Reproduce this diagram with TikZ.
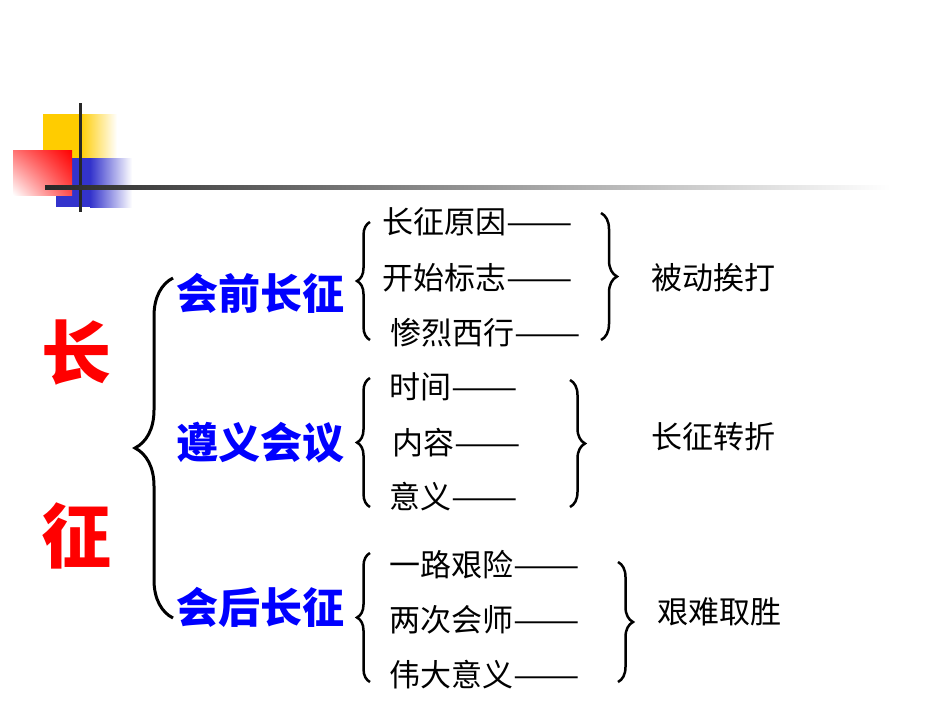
\documentclass[tikz,border=0pt]{standalone}
\usepackage{fontspec}
\setmainfont{Noto Sans CJK SC}
\usetikzlibrary{decorations.pathreplacing,shadings}
\definecolor{deckyellow}{RGB}{255,204,0}
\definecolor{deckblue}{RGB}{51,51,204}
\definecolor{deckline}{RGB}{40,40,40}
\newcommand{\longdash}{\scalebox{1.28}[1]{——}}
\begin{document}
\begin{tikzpicture}[
        x=1pt, y=-1pt,
        title/.style={text=red, font=\fontsize{70}{70}\selectfont\bfseries, inner sep=0pt},
        phase/.style={text=blue, font=\fontsize{42}{42}\selectfont\bfseries, anchor=west, inner sep=0pt},
        item/.style={font=\fontsize{31}{31}\selectfont, anchor=west, inner sep=0pt},
        verdict/.style={font=\fontsize{31}{31}\selectfont, anchor=west, inner sep=0pt},
        bigbrace/.style={draw, line width=3pt, decorate, decoration={brace, amplitude=38pt}},
        brace/.style={draw, line width=2.5pt, decorate, decoration={brace, amplitude=#1}}
      ]
        \useasboundingbox (0,0) rectangle (950,713);

        % corner decoration
        \fill[deckyellow] (43,114) rectangle (80,158);
        \shade[left color=deckyellow, right color=white] (80,114) rectangle (117,158);
        \fill[deckblue] (56,158) rectangle (90,207);
        \shade[left color=deckblue, right color=white] (90,158) rectangle (132,207);
        \shade[upper left=red!55, upper right=red, lower left=white, lower right=red!70]
          (13,150) rectangle (72,195);
        \fill[deckline] (78.5,103) rectangle (81.5,212);
        \shade[left color=deckline, right color=white] (45,185) rectangle (890,189);

        \node[title] (chang) at (76,353) {长};
        \node[title] (zheng) at (76,536) {征};

        \node[phase] (before) at (176,293) {会前长征};
        \node[phase] (zunyi) at (176,443) {遵义会议};
        \node[phase] (after) at (176,607) {会后长征};

        \node[item] (cause) at (382,222) {长征原因\longdash};
        \node[item] (start) at (382,278) {开始标志\longdash};
        \node[item] (west) at (390,333) {惨烈西行\longdash};
        \node[item] (time) at (389,387) {时间\longdash};
        \node[item] (content) at (392,443) {内容\longdash};
        \node[item] (meaning) at (389,497) {意义\longdash};
        \node[item] (hardship) at (389,565) {一路艰险\longdash};
        \node[item] (meet) at (389,620) {两次会师\longdash};
        \node[item] (greatness) at (389,675) {伟大意义\longdash};

        \node[verdict] (passive) at (651,278) {被动挨打};
        \node[verdict] (turn) at (651,437) {长征转折};
        \node[verdict] (victory) at (657,612) {艰难取胜};

        \draw[bigbrace] (173,618) -- (173,278);
        \draw[brace=13pt] (370,340) -- (370,222);
        \draw[brace=13pt] (370,507) -- (370,378);
        \draw[brace=13pt] (370,682) -- (370,553);
        \draw[brace=16pt] (601,213) -- (601,340);
        \draw[brace=15pt] (570,380) -- (570,507);
        \draw[brace=15pt] (618,562) -- (618,682);
      \end{tikzpicture}
\end{document}
